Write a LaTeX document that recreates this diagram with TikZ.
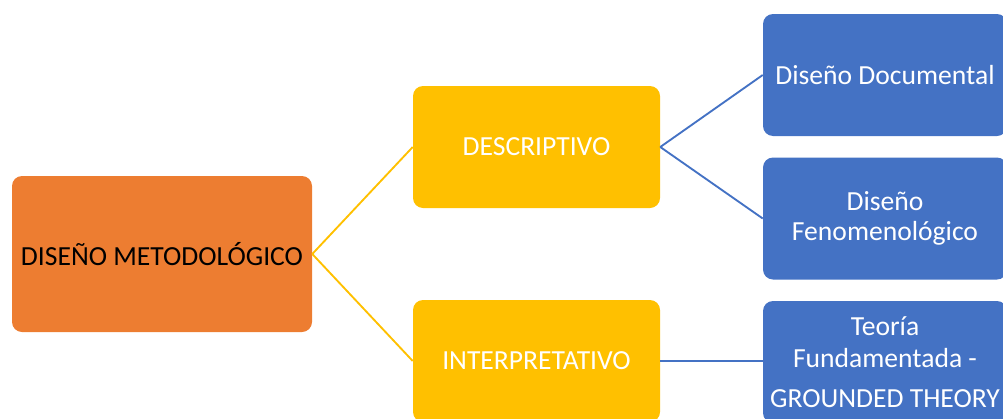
\documentclass[tikz,border=0pt]{standalone}
\usepackage{fontspec}
\setmainfont{Carlito}
\definecolor{orangeC}{HTML}{ED7D31}
\definecolor{yellowC}{HTML}{FFC000}
\definecolor{blueC}{HTML}{4472C4}
\begin{document}
\begin{tikzpicture}[x=0.75pt,y=-0.75pt,
  box/.style={rounded corners=7.5pt, inner sep=0pt, align=center, font=\fontsize{20.7}{22.5}\selectfont},
  rootbox/.style={box, fill=orangeC, text=black, minimum width=225pt, minimum height=117pt},
  midbox/.style={box, fill=yellowC, text=white, minimum width=185.25pt, minimum height=91.5pt},
  leafbox/.style={box, fill=blueC, text=white, minimum width=183pt, minimum height=91.5pt},
  yline/.style={draw=yellowC, line width=1.4pt},
  bline/.style={draw=blueC, line width=1.4pt}]
\useasboundingbox (0,0) rectangle (1003,418);
\clip (0,0) rectangle (1003,418);
\node[rootbox] (root) at (162,254) {DISEÑO METODOLÓGICO};
\node[midbox] (desc) at (536.5,147) {DESCRIPTIVO};
\node[midbox] (interp) at (536.5,361) {INTERPRETATIVO};
\node[leafbox] (doc) at (885,75) {Diseño Documental};
\node[leafbox] (fen) at (885,218.5) {Diseño\\[0pt]Fenomenológico};
\node[leafbox] (gt) at (885,362) {Teoría\\[1.5pt]Fundamentada -\\[7.5pt]GROUNDED THEORY};
\draw[yline] (root.east) -- (desc.west);
\draw[yline] (root.east) -- (interp.west);
\draw[bline] (desc.east) -- (doc.west);
\draw[bline] (desc.east) -- (fen.west);
\draw[bline] (interp.east) -- (interp.east -| gt.west);
\end{tikzpicture}
\end{document}
